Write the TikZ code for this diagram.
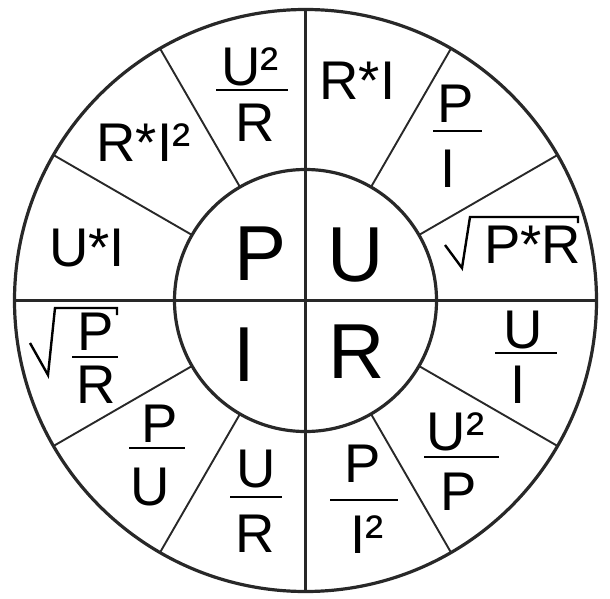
\documentclass[tikz,border=0pt]{standalone}
\usepackage{fontspec}
\setmainfont{Liberation Sans}
\usepackage{tikz}
\definecolor{ink}{RGB}{40, 40, 40}

\begin{document}
\begin{tikzpicture}[x=1pt, y=-1pt,
    ring/.style={draw=ink, line width=3.2pt},
    cross/.style={draw=ink, line width=3pt},
    spoke/.style={draw=ink, line width=1.9pt},
    bar/.style={draw=black, line width=2.4pt},
    radical/.style={draw=black, line width=2.4pt, line join=miter},
    big/.style={inner sep=0pt, anchor=base, font=\fontsize{78}{80}\selectfont},
    term/.style={inner sep=0pt, anchor=base, font=\fontsize{54.5}{60}\selectfont}]
            \useasboundingbox (0,0) rectangle (610,599);
            \coordinate (c) at (305.5,300.5);
            % wheel
            \draw[ring]  (c) circle (291pt);
            \draw[ring]  (c) circle (131pt);
            \draw[cross] (c) ++(0,-291) -- ++(0,582);
            \draw[cross] (c) ++(-291,0) -- ++(582,0);
            \foreach \a in {30,60,120,150,210,240,300,330}
                \draw[spoke] (c) ++(\a:131) -- ++(\a:160);
            % centre
            \node[big] (P) at (260.5,280) {P};
            \node[big] (U) at (355.5,281) {U};
            \node[big] (I) at (244.0,381) {I};
            \node[big] (R) at (357.0,378) {R};
            % P = ...
            \node[term] (u2r-n) at (250.0, 86) {U²};
            \node[term] (u2r-d) at (255.5,142) {R};
            \draw[bar]  (216, 90) -- (288, 90);
            \node[term] (ri2)   at (143.5,161) {R*I²};
            \node[term] (ui)    at ( 87.0,266) {U*I};
            % U = ...
            \node[term] (ri)    at (357.5,100) {R*I};
            \node[term] (pi-n)  at (456.0,122) {P};
            \node[term] (pi-d)  at (448.0,187) {I};
            \draw[bar]  (433,131) -- (482,131);
            \node[term] (pr)    at (532.5,263) {P*R};
            \draw[radical] (445,245) -- (462,268) -- (470,217) -- (578,217) -- (578,223);
            % R = ...
            \node[term] (ui-n)  at (523.5,348) {U};
            \node[term] (ui-d)  at (518.5,403) {I};
            \draw[bar]  (495,353) -- (557,353);
            \node[term] (u2p-n) at (455.5,450) {U²};
            \node[term] (u2p-d) at (458.5,510) {P};
            \draw[bar]  (424,457) -- (499,457);
            \node[term] (pi2-n) at (362.5,482) {P};
            \node[term] (pi2-d) at (367.0,553) {I²};
            \draw[bar]  (330,500) -- (398,500);
            % I = ...
            \node[term] (ur-n)  at (256.5,487) {U};
            \node[term] (ur-d)  at (255.5,552) {R};
            \draw[bar]  (230,497) -- (282,497);
            \node[term] (pu-n)  at (160.0,442) {P};
            \node[term] (pu-d)  at (150.0,505) {U};
            \draw[bar]  (129,448) -- (185,448);
            \node[term] (pr-n)  at ( 96.0,350) {P};
            \node[term] (pr-d)  at ( 96.0,403) {R};
            \draw[bar]  ( 72,357) -- (118,357);
            \draw[radical] (30,343) -- (48,375) -- (55,308) -- (117,308) -- (117,315);
\end{tikzpicture}
\end{document}
